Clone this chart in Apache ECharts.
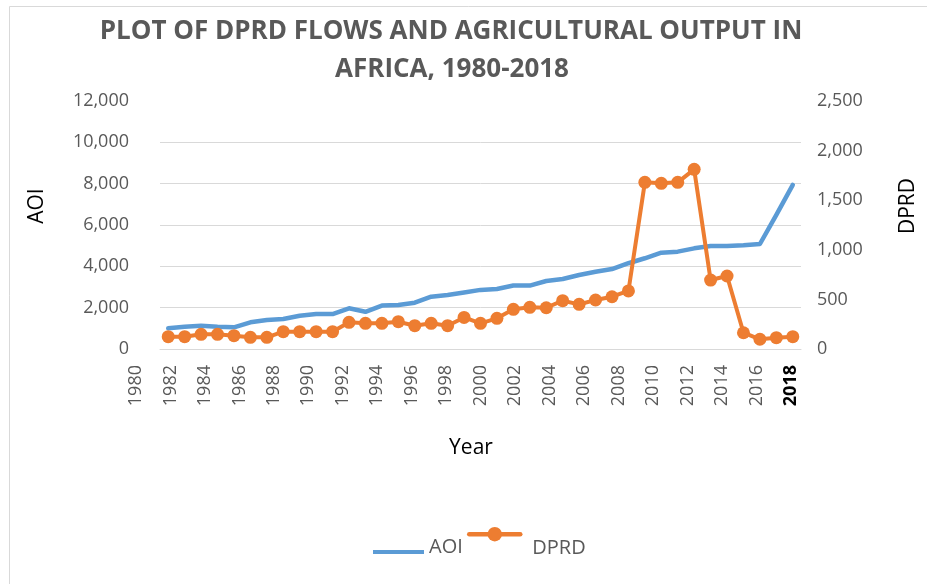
<!DOCTYPE html>
<html>
<head>
<meta charset="utf-8">
<title>DPRD flows and agricultural output in Africa</title>
<script src="https://cdn.jsdelivr.net/npm/echarts@6/dist/echarts.min.js"></script>
<style>
  html, body { margin: 0; padding: 0; background: #ffffff; }
  #chart { width: 927px; height: 584px; }
</style>
</head>
<body>
<div id="chart"></div>
<script>
// Years of observation (one point per year)
var years = [
  1980, 1981, 1982, 1983, 1984, 1985, 1986, 1987, 1988, 1989,
  1990, 1991, 1992, 1993, 1994, 1995, 1996, 1997, 1998, 1999,
  2000, 2001, 2002, 2003, 2004, 2005, 2006, 2007, 2008, 2009,
  2010, 2011, 2012, 2013, 2014, 2015, 2016, 2017, 2018
];

// Agricultural output index (left axis)
var aoi = [
  1000, 1080, 1130, 1080, 1050, 1290, 1400, 1450, 1610, 1690,
  1690, 1970, 1800, 2100, 2130, 2240, 2530, 2610, 2730, 2860,
  2900, 3070, 3070, 3290, 3390, 3580, 3740, 3870, 4150, 4390,
  4660, 4710, 4870, 4980, 4980, 5020, 5080, 6490, 7940
];

// DPRD flows (right axis)
var dprd = [
  124, 124, 148, 148, 134, 118, 118, 175, 175, 175,
  175, 269, 259, 259, 275, 235, 259, 235, 318, 259,
  309, 400, 420, 416, 487, 450, 494, 527, 585, 1680,
  1670, 1680, 1811, 695, 736, 164, 98, 114, 124
];

// Year labels printed under the plot
var yearTicks = [
  '1980', '1982', '1984', '1986', '1988', '1990', '1992', '1994', '1996', '1998',
  '2000', '2002', '2004', '2006', '2008', '2010', '2012', '2014', '2016', '2018'
];

var titleLines = ['PLOT OF DPRD FLOWS AND AGRICULTURAL OUTPUT IN', 'AFRICA, 1980-2018'];

var FONT = '"Open Sans", "Noto Sans", sans-serif';
var GREY_TEXT = '#595959';
var GRID_LINE = '#d9d9d9';
var BLUE = '#5B9BD5';
var ORANGE = '#ED7D31';

var chart = echarts.init(document.getElementById('chart'), null, { renderer: 'canvas' });

var option = {
  backgroundColor: '#ffffff',
  animation: false,
  textStyle: { fontFamily: FONT },
  graphic: [
    {
      type: 'rect', z: -10, silent: true,
      shape: { x: 9.5, y: 6.5, width: 1000, height: 1000 },
      style: { fill: 'none', stroke: GRID_LINE, lineWidth: 1 }
    },
    {
      type: 'text', x: 451, y: 32,
      style: { text: titleLines[0], font: 'bold 26px ' + FONT, fill: GREY_TEXT, textAlign: 'center', textVerticalAlign: 'middle' }
    },
    {
      type: 'text', x: 452, y: 70,
      style: { text: titleLines[1], font: 'bold 26px ' + FONT, fill: GREY_TEXT, textAlign: 'center', textVerticalAlign: 'middle' }
    },
    {
      type: 'text', x: 37, y: 206, rotation: Math.PI / 2,
      style: { text: 'AOI', font: '21px ' + FONT, fill: '#000000', textAlign: 'center', textVerticalAlign: 'middle' }
    },
    {
      type: 'text', x: 908, y: 206, rotation: Math.PI / 2,
      style: { text: 'DPRD', font: '21px ' + FONT, fill: '#000000', textAlign: 'center', textVerticalAlign: 'middle' }
    },
    {
      type: 'text', x: 471, y: 448,
      style: { text: 'Year', font: '21px ' + FONT, fill: '#000000', textAlign: 'center', textVerticalAlign: 'middle' }
    }
  ],
  legend: [
    {
      data: [{ name: 'AOI', icon: 'rect', itemStyle: { color: BLUE } }],
      left: 373, top: 537, padding: 0,
      itemWidth: 51, itemHeight: 4,
      formatter: function (n) { return '{t|' + n + '}'; },
      textStyle: {
        fontSize: 20, color: GREY_TEXT,
        rich: { t: { fontSize: 20, color: GREY_TEXT, fontFamily: FONT, padding: [0, 0, 10, 0] } }
      }
    },
    {
      data: ['DPRD'], left: 467, top: 527, padding: 0,
      itemWidth: 51, itemHeight: 18,
      lineStyle: { width: 4.5 },
      formatter: function (n) { return '{t|' + n + '}'; },
      textStyle: {
        fontSize: 20, color: GREY_TEXT,
        rich: { t: { fontSize: 20, color: GREY_TEXT, fontFamily: FONT, padding: [28, 0, 0, 7] } }
      }
    }
  ],
  grid: [
    { left: 160, right: 126, top: 101, height: 248 },
    { left: 136, right: 136, top: 101, height: 248 }
  ],
  xAxis: [
    {
      type: 'category', gridIndex: 0, data: years, boundaryGap: true,
      offset: 43,
      axisLine: { show: true, lineStyle: { color: GRID_LINE, width: 1 } },
      axisTick: { show: false },
      axisLabel: { show: false },
      splitLine: { show: false }
    },
    {
      type: 'category', gridIndex: 1, data: yearTicks, boundaryGap: false,
      axisLine: { show: false },
      axisTick: { show: false },
      splitLine: { show: false },
      axisLabel: {
        show: true, interval: 0, rotate: 90, margin: 16,
        fontSize: 18, color: GREY_TEXT, fontFamily: FONT,
        formatter: function (v) { return v === '2018' ? '{last|' + v + '}' : v; },
        rich: { last: { fontSize: 18, fontWeight: 'bold', color: '#000000', fontFamily: FONT } }
      }
    }
  ],
  yAxis: [
    {
      type: 'value', gridIndex: 0, min: 0, max: 12000, interval: 2000,
      axisLine: { show: false }, axisTick: { show: false },
      splitLine: { show: true, showMaxLine: false, lineStyle: { color: GRID_LINE, width: 1 } },
      axisLabel: {
        margin: 31, fontSize: 18, color: GREY_TEXT, fontFamily: FONT,
        padding: [0, 0, 8, 0],
        formatter: function (v) { return v.toLocaleString('en-US'); }
      }
    },
    {
      type: 'value', gridIndex: 0, position: 'right', min: 0, max: 2500, interval: 500,
      axisLine: { show: false }, axisTick: { show: false },
      splitLine: { show: false },
      axisLabel: {
        margin: 16, fontSize: 18, color: GREY_TEXT, fontFamily: FONT,
        padding: [0, 0, 8, 0],
        formatter: function (v) { return v.toLocaleString('en-US'); }
      }
    },
    {
      type: 'value', gridIndex: 1, show: false
    }
  ],
  series: [
    {
      name: 'AOI', type: 'line', xAxisIndex: 0, yAxisIndex: 0,
      data: aoi, showSymbol: false, symbol: 'none',
      color: BLUE,
      lineStyle: { color: BLUE, width: 4.5, cap: 'round', join: 'round' },
      z: 2
    },
    {
      name: 'DPRD', type: 'line', xAxisIndex: 0, yAxisIndex: 1,
      data: dprd, symbol: 'circle', symbolSize: 13,
      showSymbol: true, showAllSymbol: true,
      color: ORANGE,
      itemStyle: { color: ORANGE },
      lineStyle: { color: ORANGE, width: 4, cap: 'round', join: 'round' },
      z: 3
    }
  ]
};

chart.setOption(option);
</script>
</body>
</html>
